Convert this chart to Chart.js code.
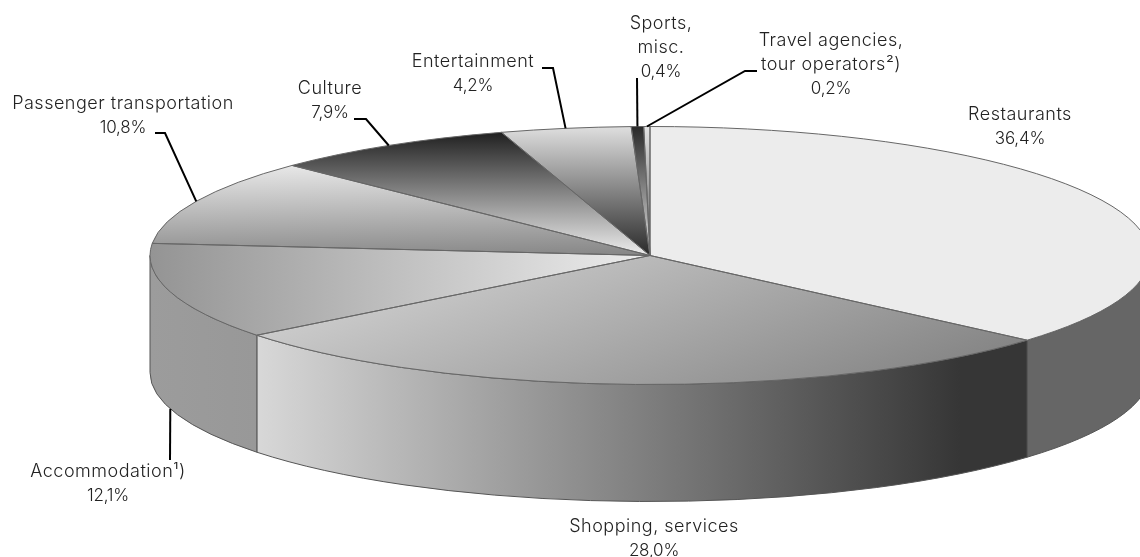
<!DOCTYPE html>
<html>
<head>
<meta charset="utf-8">
<style>
  html, body { margin: 0; padding: 0; background: #fff; }
  canvas { display: block; }
</style>
<script src="https://cdn.jsdelivr.net/npm/chart.js@4"></script>
</head>
<body>
<canvas id="pie" width="1140" height="557"></canvas>
<script>
// Share of spending by category, percent
const categories = [
  'Restaurants',
  'Shopping, services',
  'Accommodation¹)',
  'Passenger transportation',
  'Culture',
  'Entertainment',
  'Sports,\nmisc.',
  'Travel agencies,\ntour operators²)'
];
const shares = [36.4, 28.0, 12.1, 10.8, 7.9, 4.2, 0.4, 0.2];

// Tilted disc geometry on the page
const DISC = { cx: 650, cy: 255.5, rx: 500, ry: 129, depth: 117 };

// Top face shading: [x0, y0, x1, y1, colour at start, colour at end]
const topShades = [
  [649, 126, 649, 384, '#ececec', '#ececec'],
  [257, 275, 1028, 405, '#d8d8d8', '#777777'],
  [150, 290, 645, 290, '#949494', '#ececec'],
  [290, 165, 343, 343, '#e8e8e8', '#333333'],
  [500, 130, 500, 252, '#1c1c1c', '#e8e8e8'],
  [560, 127, 560, 255, '#dedede', '#2a2a2a'],
  [636, 127, 636, 255, '#2a2a2a', '#e4e4e4'],
  [646, 127, 646, 255, '#e4e4e4', '#555555']
];

// Side wall shading: [x0, x1, colour at start, colour at end]
const wallShades = [
  [1028, 1148, '#666666', '#666666'],
  [257, 960, '#d8d8d8', '#363636'],
  [150, 257, '#9c9c9c', '#989898']
];

// Label block centre and first line height, with the elbow of each leader line
const labelPlaces = [
  { x: 1020, y: 115 },
  { x: 654, y: 527 },
  { x: 108, y: 472, lead: [[170, 460]] },
  { x: 123, y: 104, lead: [[165, 133], [155, 133]] },
  { x: 330, y: 89, lead: [[366, 119], [354, 119]] },
  { x: 473, y: 62, lead: [[553, 68], [542, 68]] },
  { x: 661, y: 24, lead: [[637, 78]] },
  { x: 831, y: 41, lead: [[745, 71], [757, 71]] }
];
const LINE_HEIGHT = 24;
const NAME_FONT = '300 18px Inter';
const VALUE_FONT = '300 17px Inter';

const percentText = v => v.toFixed(1).replace('.', ',') + '%';

function discScale(chart) {
  const a = chart.chartArea;
  const r = Math.min(a.right - a.left, a.bottom - a.top) / 2;
  return { x0: (a.left + a.right) / 2, y0: (a.top + a.bottom) / 2, sx: DISC.rx / r, sy: DISC.ry / r };
}

// Slices are filled inside a scaled context, so gradient ends are mapped back to it
function topFill(ctx) {
  const chart = ctx.chart;
  if (!chart.chartArea) return '#999';
  const s = discScale(chart);
  const [x0, y0, x1, y1, c0, c1] = topShades[ctx.dataIndex];
  const g = chart.ctx.createLinearGradient(
    s.x0 + (x0 - DISC.cx) / s.sx, s.y0 + (y0 - DISC.cy) / s.sy,
    s.x0 + (x1 - DISC.cx) / s.sx, s.y0 + (y1 - DISC.cy) / s.sy);
  g.addColorStop(0, c0);
  g.addColorStop(1, c1);
  return g;
}

function rimPoint(angle) {
  return [DISC.cx + DISC.rx * Math.cos(angle), DISC.cy + DISC.ry * Math.sin(angle)];
}

const tiltedDisc = {
  id: 'tiltedDisc',
  beforeDatasetsDraw(chart) {
    const ctx = chart.ctx;
    const arcs = chart.getDatasetMeta(0).data;
    ctx.save();
    arcs.forEach((arc, i) => {
      const a0 = Math.max(arc.startAngle, 0);
      const a1 = Math.min(arc.endAngle, Math.PI);
      if (a1 <= a0 || !wallShades[i]) return;
      const [x0, x1, c0, c1] = wallShades[i];
      const g = ctx.createLinearGradient(x0, 0, x1, 0);
      g.addColorStop(0, c0);
      g.addColorStop(1, c1);
      ctx.beginPath();
      ctx.ellipse(DISC.cx, DISC.cy, DISC.rx, DISC.ry, 0, a0, a1);
      ctx.ellipse(DISC.cx, DISC.cy + DISC.depth, DISC.rx, DISC.ry, 0, a1, a0, true);
      ctx.closePath();
      ctx.fillStyle = g;
      ctx.fill();
      ctx.lineWidth = 1;
      ctx.strokeStyle = '#555555';
      ctx.stroke();
    });
    ctx.restore();

    // Squash the library's round pie into the tilted top face
    const s = discScale(chart);
    ctx.save();
    ctx.translate(DISC.cx, DISC.cy);
    ctx.scale(s.sx, s.sy);
    ctx.translate(-s.x0, -s.y0);
  },
  afterDatasetsDraw(chart) {
    const ctx = chart.ctx;
    ctx.restore();
    const arcs = chart.getDatasetMeta(0).data;

    // Slice outlines drawn unscaled for an even line weight
    ctx.save();
    ctx.lineWidth = 1;
    ctx.strokeStyle = '#666666';
    arcs.forEach(arc => {
      ctx.beginPath();
      ctx.moveTo(DISC.cx, DISC.cy);
      ctx.ellipse(DISC.cx, DISC.cy, DISC.rx, DISC.ry, 0, arc.startAngle, arc.endAngle);
      ctx.closePath();
      ctx.stroke();
    });
    ctx.restore();

    // Leader lines run from each slice's middle to its label
    ctx.save();
    ctx.lineWidth = 2;
    ctx.strokeStyle = '#000';
    ctx.lineJoin = 'miter';
    arcs.forEach((arc, i) => {
      const lead = labelPlaces[i].lead;
      if (!lead) return;
      const mid = (arc.startAngle + arc.endAngle) / 2;
      const [px, py] = rimPoint(mid);
      ctx.beginPath();
      ctx.moveTo(px, Math.sin(mid) > 0 ? py + DISC.depth : py);
      lead.forEach(p => ctx.lineTo(p[0], p[1]));
      ctx.stroke();
    });
    ctx.restore();

    // Category names with their percentages
    ctx.save();
    ctx.fillStyle = '#222222';
    ctx.textAlign = 'center';
    ctx.textBaseline = 'middle';
    categories.forEach((name, i) => {
      const nameLines = name.split('\n');
      ctx.font = NAME_FONT;
      ctx.letterSpacing = '0.5px';
      nameLines.forEach((line, k) => {
        ctx.fillText(line, labelPlaces[i].x, labelPlaces[i].y + k * LINE_HEIGHT);
      });
      ctx.font = VALUE_FONT;
      ctx.letterSpacing = '-0.2px';
      ctx.fillText(percentText(shares[i]), labelPlaces[i].x, labelPlaces[i].y + nameLines.length * LINE_HEIGHT);
    });
    ctx.restore();
  }
};

new Chart(document.getElementById('pie'), {
  type: 'pie',
  data: {
    labels: categories.map(c => c.replace('\n', ' ')),
    datasets: [{
      data: shares,
      backgroundColor: topFill,
      borderWidth: 0,
      clip: false
    }]
  },
  options: {
    responsive: false,
    animation: false,
    layout: { padding: { left: 160, right: 0, top: 0, bottom: 46 } },
    plugins: { legend: { display: false }, tooltip: { enabled: false } }
  },
  plugins: [tiltedDisc]
});
</script>
</body>
</html>
